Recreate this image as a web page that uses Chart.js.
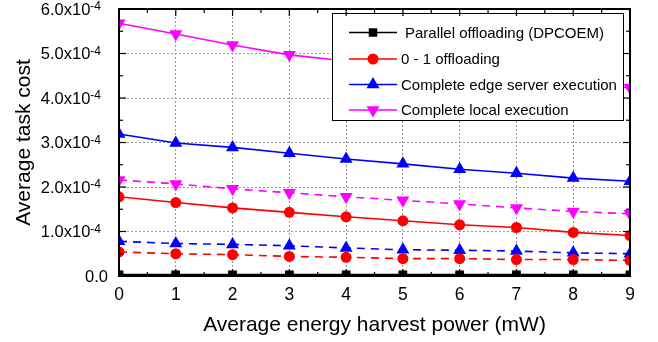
<!DOCTYPE html>
<html>
<head>
<meta charset="utf-8">
<script src="https://cdn.jsdelivr.net/npm/chart.js@4.4.1/dist/chart.umd.min.js"></script>
<style>
	html, body { margin: 0; padding: 0; background: #fff; }
</style>
</head>
<body>
<canvas id="chart" width="658" height="342"></canvas>
<script>
// Average energy harvest power (mW)
const powers = [0, 1, 2, 3, 4, 5, 6, 7, 8, 9];

// Average task cost, in units of 1e-4
const parallelSolid = [0.03, 0.03, 0.03, 0.03, 0.03, 0.03, 0.03, 0.03, 0.03, 0.03];
const parallelDashed = [0.01, 0.01, 0.01, 0.01, 0.01, 0.01, 0.01, 0.01, 0.01, 0.01];
const zeroOneSolid = [1.78, 1.65, 1.53, 1.43, 1.33, 1.24, 1.15, 1.09, 0.98, 0.91];
const zeroOneDashed = [0.54, 0.50, 0.48, 0.44, 0.42, 0.39, 0.39, 0.37, 0.37, 0.35];
const edgeSolid = [3.19, 2.99, 2.89, 2.76, 2.63, 2.52, 2.40, 2.31, 2.20, 2.13];
const edgeDashed = [0.78, 0.73, 0.71, 0.68, 0.63, 0.59, 0.58, 0.56, 0.52, 0.50];
const localSolid = [5.68, 5.44, 5.19, 4.97, 4.83, 4.66, 4.52, 4.41, 4.31, 4.23];
const localDashed = [2.16, 2.07, 1.96, 1.87, 1.78, 1.70, 1.62, 1.53, 1.45, 1.40];

const yTicks = [0, 1, 2, 3, 4, 5, 6];
const legendLabels = [
	'Parallel offloading (DPCOEM)',
	'0 - 1 offloading',
	'Complete edge server execution',
	'Complete local execution',
];

const FONT = '"Liberation Sans", Arial, sans-serif';

const styles = [
	{ color: '#000000', pointStyle: 'rect', radius: 6, rotation: 0 },
	{ color: '#ff0000', pointStyle: 'circle', radius: 5.5, rotation: 0 },
	{ color: '#0000ff', pointStyle: 'triangle', radius: 7.5, rotation: 0 },
	{ color: '#ff00ff', pointStyle: 'triangle', radius: 7.5, rotation: 180 },
];

function series(values, s, dashed) {
	return {
		data: values.map((v, i) => ({ x: powers[i], y: v })),
		borderColor: s.color,
		backgroundColor: s.color,
		borderWidth: 1.6,
		borderDash: dashed ? [8, 6] : [],
		pointStyle: s.pointStyle,
		pointRadius: s.radius,
		pointRotation: s.rotation,
		pointBorderWidth: 0,
		pointBackgroundColor: s.color,
		tension: 0,
		clip: 0,
	};
}

function drawMarker(ctx, s, x, y) {
	ctx.fillStyle = s.color;
	if (Chart.helpers && Chart.helpers.drawPoint) {
		Chart.helpers.drawPoint(ctx, { pointStyle: s.pointStyle, radius: s.radius, rotation: s.rotation, borderWidth: 0 }, x, y);
	} else {
		ctx.beginPath();
		ctx.arc(x, y, s.radius, 0, Math.PI * 2);
		ctx.fill();
	}
}

const framePlugin = {
	id: 'frame',
	afterDatasetsDraw(chart) {
		const { ctx, chartArea: a } = chart;
		const x = chart.scales.x;
		const y = chart.scales.y;
		ctx.save();

		// legend box
		const lx = 332, ly = 13, lw = 291, lh = 107;
		ctx.fillStyle = '#fff';
		ctx.fillRect(lx, ly, lw, lh);
		ctx.strokeStyle = '#000';
		ctx.lineWidth = 1;
		ctx.strokeRect(lx + 0.5, ly + 0.5, lw, lh);
		const rows = [32.5, 59, 84.5, 110];
		ctx.font = '15px ' + FONT;
		ctx.textBaseline = 'middle';
		ctx.textAlign = 'left';
		rows.forEach((ry, i) => {
			const s = styles[i];
			ctx.strokeStyle = s.color;
			ctx.lineWidth = 1.6;
			ctx.beginPath();
			ctx.moveTo(349, ry);
			ctx.lineTo(397, ry);
			ctx.stroke();
			drawMarker(ctx, s, 373, ry);
			ctx.fillStyle = '#000';
			ctx.fillText(legendLabels[i], i === 0 ? 405 : 401, ry + 1);
		});

		// inward ticks
		ctx.strokeStyle = '#000';
		ctx.lineWidth = 1.2;
		const seg = (x1, y1, x2, y2) => {
			ctx.beginPath();
			ctx.moveTo(x1, y1);
			ctx.lineTo(x2, y2);
			ctx.stroke();
		};
		for (let v = 0; v <= 6; v += 0.5) {
			const py = y.getPixelForValue(v);
			const len = Number.isInteger(v) ? 7 : 4;
			seg(a.left, py, a.left + len, py);
			seg(a.right, py, a.right - len, py);
		}
		for (let v = 0; v <= 9; v += 0.5) {
			const px = x.getPixelForValue(v);
			const len = Number.isInteger(v) ? 7 : 4;
			seg(px, a.bottom, px, a.bottom - len);
			seg(px, a.top, px, a.top + len);
		}

		// frame
		ctx.lineWidth = 2;
		ctx.strokeRect(a.left, a.top, a.right - a.left, a.bottom - a.top);

		// y tick labels with superscript exponent
		ctx.fillStyle = '#000';
		ctx.textAlign = 'right';
		yTicks.forEach(v => {
			const py = y.getPixelForValue(v);
			if (v === 0) {
				ctx.font = '16.5px ' + FONT;
				ctx.textBaseline = 'middle';
				ctx.fillText('0.0', 108, py + 1);
				return;
			}
			ctx.font = '12px ' + FONT;
			const sup = '-4';
			const supW = ctx.measureText(sup).width;
			ctx.textAlign = 'left';
			ctx.textBaseline = 'alphabetic';
			ctx.fillText(sup, 101 - supW, py + 1);
			ctx.textAlign = 'right';
			ctx.font = '16.5px ' + FONT;
			ctx.textBaseline = 'middle';
			ctx.fillText(v.toFixed(1) + 'x10', 101 - supW, py + 1);
		});
		ctx.restore();
	},
};

new Chart(document.getElementById('chart'), {
	type: 'line',
	data: {
		datasets: [
			series(parallelSolid, styles[0], false),
			series(parallelDashed, styles[0], true),
			series(zeroOneSolid, styles[1], false),
			series(zeroOneDashed, styles[1], true),
			series(edgeSolid, styles[2], false),
			series(edgeDashed, styles[2], true),
			series(localSolid, styles[3], false),
			series(localDashed, styles[3], true),
		],
	},
	options: {
		responsive: false,
		animation: false,
		layout: { padding: { left: 0, right: 28, top: 9, bottom: 0 } },
		plugins: {
			legend: { display: false },
			tooltip: { enabled: false },
		},
		scales: {
			x: {
				type: 'linear',
				min: 0,
				max: 9,
				ticks: {
					stepSize: 1,
					color: '#000',
					font: { family: FONT, size: 17.5 },
					padding: 9,
					maxRotation: 0,
				},
				grid: { color: '#9a9a9a', lineWidth: 1, drawTicks: false },
				border: { display: false, dash: [2, 2] },
				title: {
					display: true,
					text: 'Average energy harvest power (mW)',
					color: '#000',
					font: { family: FONT, size: 21 },
					padding: { top: 0, bottom: 4 },
				},
				afterFit: s => { s.height = 66; },
			},
			y: {
				type: 'linear',
				min: 0,
				max: 6,
				ticks: { stepSize: 1, display: false },
				grid: { color: '#9a9a9a', lineWidth: 1, drawTicks: false },
				border: { display: false, dash: [2, 2] },
				title: {
					display: true,
					text: 'Average task cost',
					color: '#000',
					font: { family: FONT, size: 21 },
					padding: { top: 12, bottom: 0 },
				},
				afterFit: s => { s.width = 119; },
			},
		},
	},
	plugins: [framePlugin],
});
</script>
</body>
</html>
